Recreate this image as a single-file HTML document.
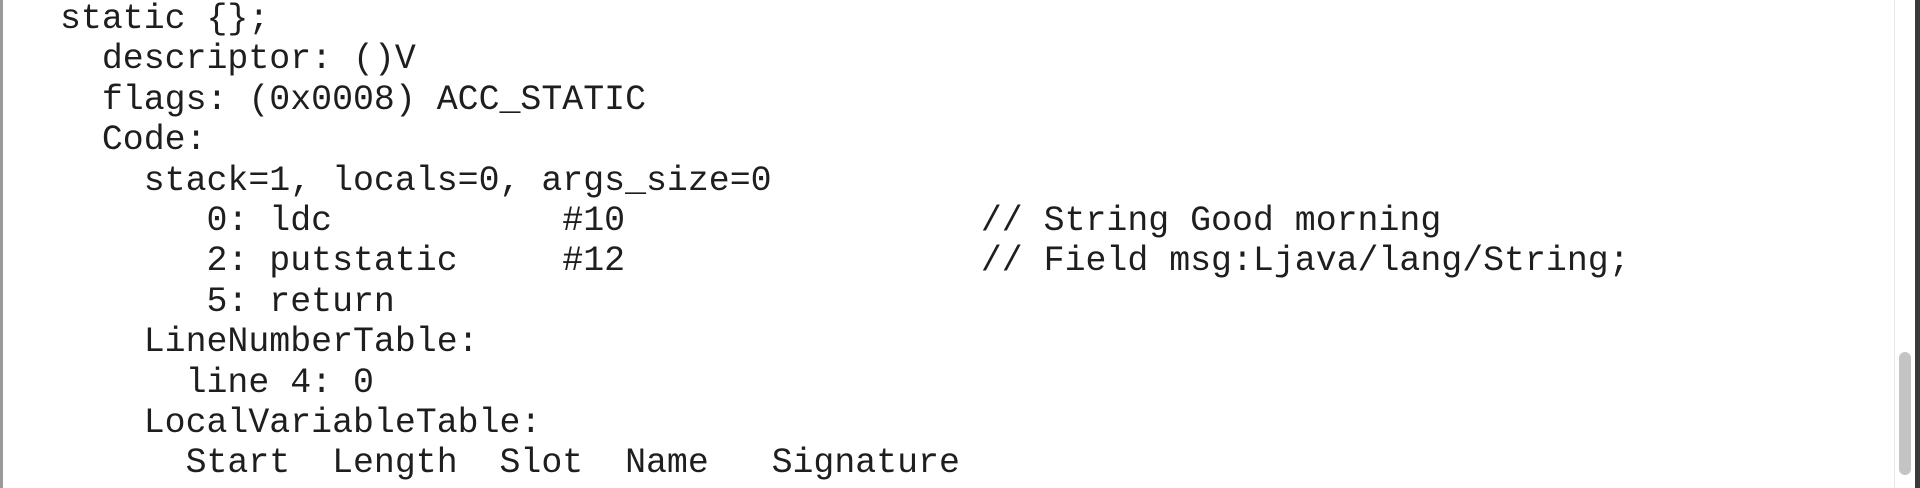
<!DOCTYPE html>
<html><head><meta charset="utf-8"><style>
html,body{margin:0;padding:0;width:1920px;height:488px;overflow:hidden;background:#fff;}
pre{position:absolute;left:60px;top:0px;margin:0;font-family:"Liberation Mono",monospace;font-size:34.88px;line-height:40.4px;color:#1e1e1e;}
.lb{position:absolute;left:0;top:0;width:3px;height:488px;background:#9a9a9a;}
.rl{position:absolute;left:1894px;top:0;width:1px;height:488px;background:#e8e8e8;}
.sb{position:absolute;left:1899px;top:352px;width:12px;height:123px;border-radius:6px;background:#c4c4c4;}
.rb{position:absolute;left:1915px;top:0;width:5px;height:488px;background:#3a3a3a;}
</style></head><body>
<div class="lb"></div><div class="rl"></div><div class="sb"></div><div class="rb"></div>
<pre>static {};
  descriptor: ()V
  flags: (0x0008) ACC_STATIC
  Code:
    stack=1, locals=0, args_size=0
       0: ldc           #10                 // String Good morning
       2: putstatic     #12                 // Field msg:Ljava/lang/String;
       5: return
    LineNumberTable:
      line 4: 0
    LocalVariableTable:
      Start  Length  Slot  Name   Signature</pre>
</body></html>
